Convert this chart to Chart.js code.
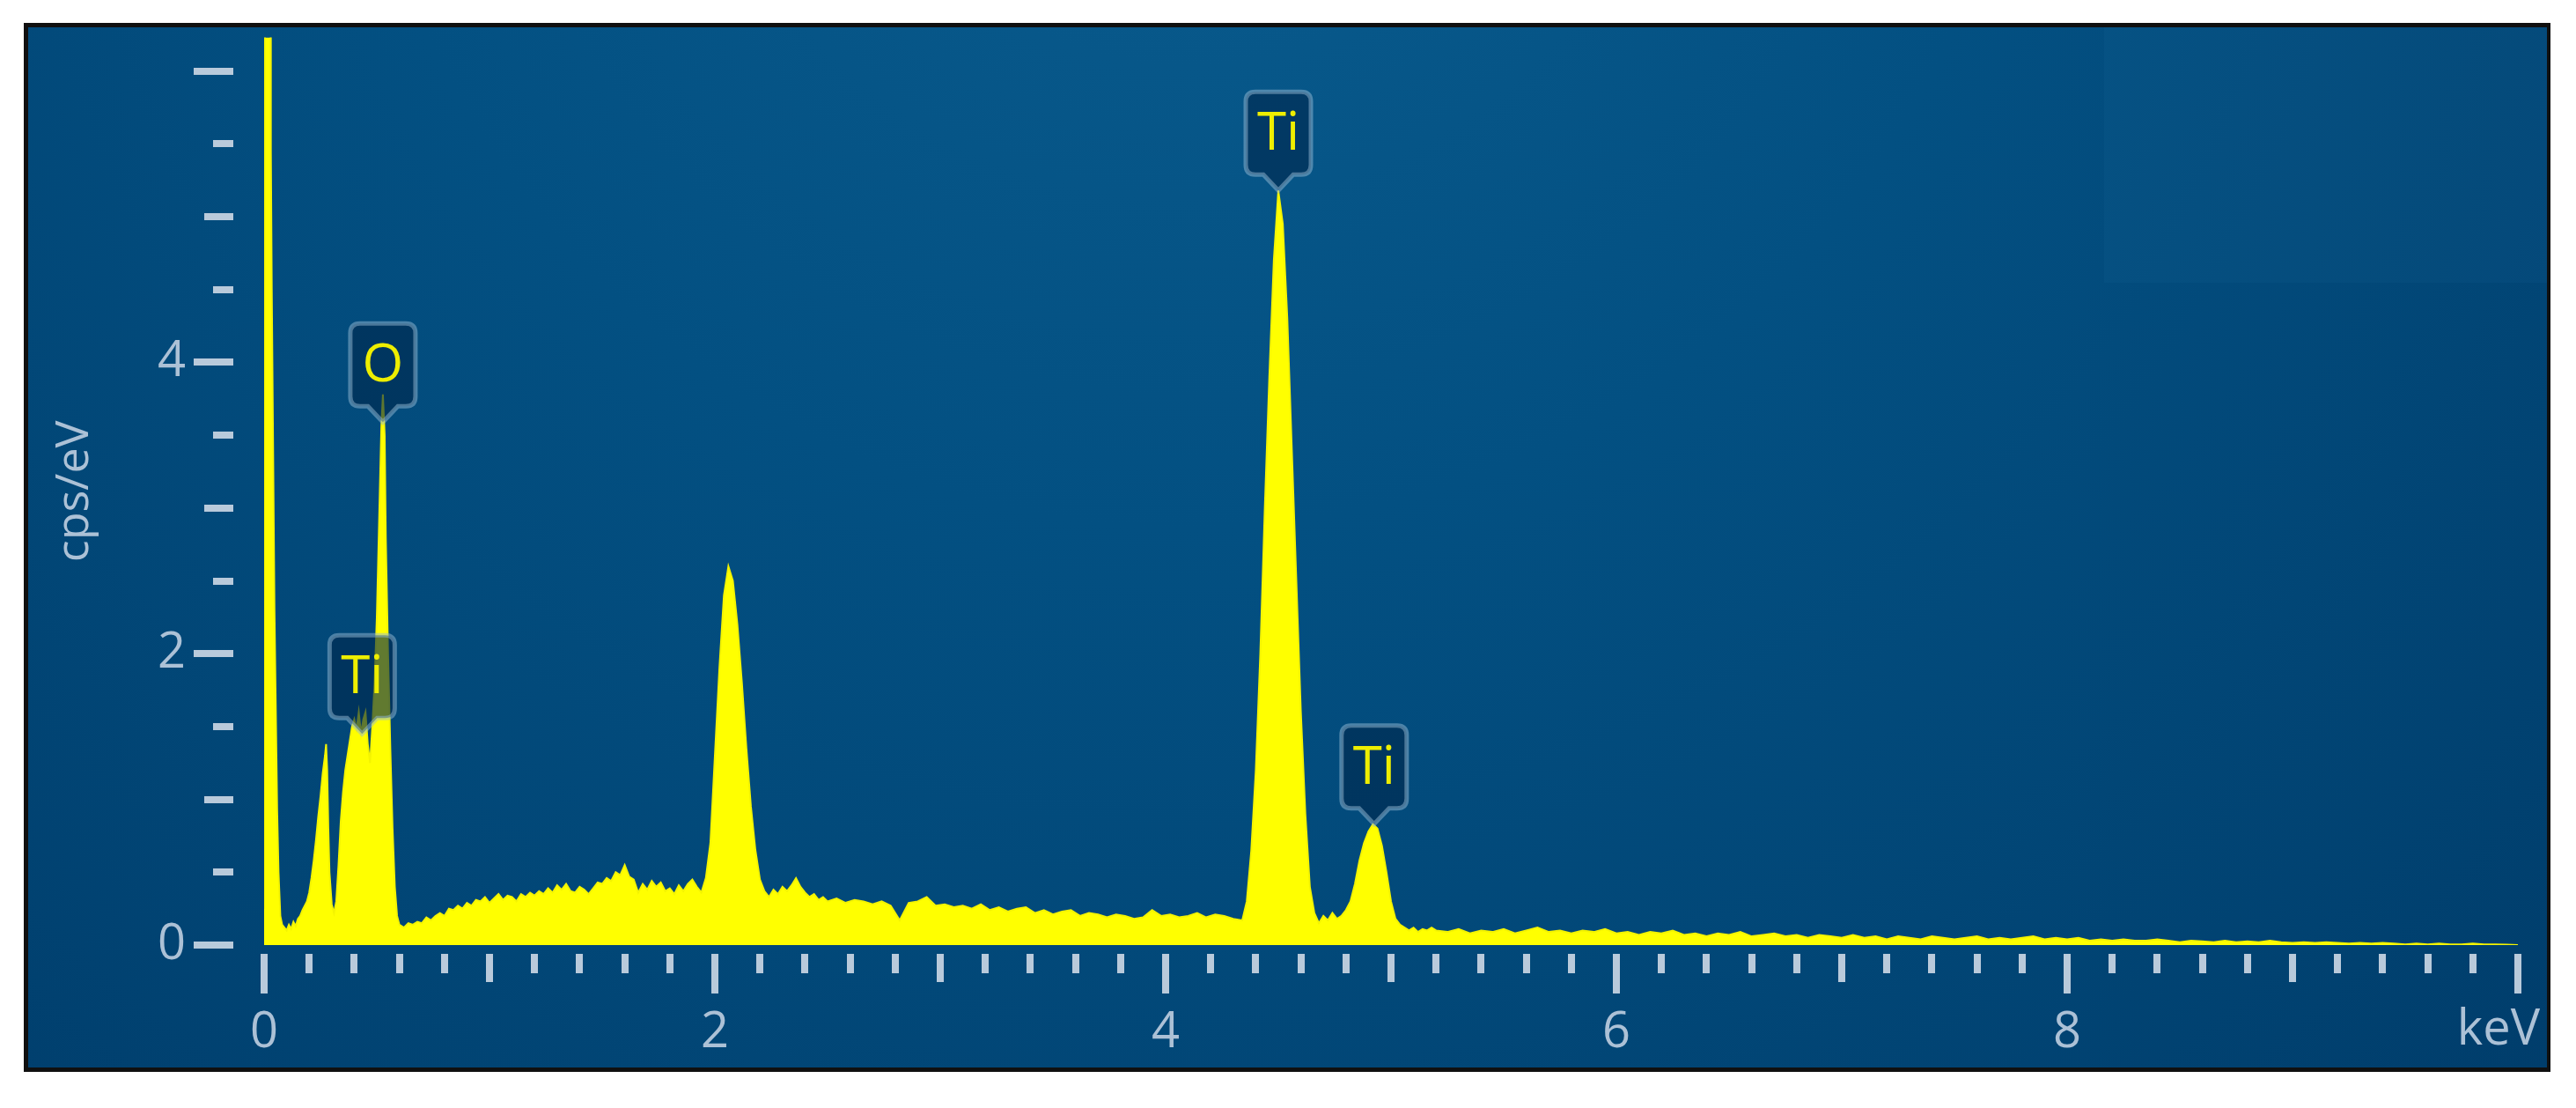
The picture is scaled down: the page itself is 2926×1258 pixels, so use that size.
<!DOCTYPE html>
<html><head><meta charset="utf-8">
<script src="https://cdn.jsdelivr.net/npm/chart.js@4.4.1/dist/chart.umd.min.js"></script>
<style>html,body{margin:0;padding:0;background:#fff;overflow:hidden}canvas{display:block}</style>
</head><body>
<canvas id="c" width="2926" height="1258"></canvas>
<script>
// ---- spectrum data (energy in keV, intensity in cps/eV) ----
const energyA = [0.000,0.004,0.028,0.030,0.034,0.046,0.058,0.064,0.072,0.080,0.090,0.100,0.110,0.120,0.130,0.140,0.150,0.160,0.170,0.180,0.190,0.200,0.210,0.220,0.230,0.240,0.250,0.260,0.270,0.275,0.280,0.285,0.290,0.300,0.310,0.320,0.330,0.340,0.350,0.360,0.370,0.380,0.390,0.400,0.410,0.420,0.430,0.440,0.450,0.460,0.470,0.480,0.490,0.500,0.510,0.520,0.527,0.535,0.540,0.550,0.560,0.570,0.580,0.590,0.600,0.620,0.640];
const countsA = [0.25,9.0,9.0,5.45,4.5,2.3,0.92,0.5,0.2,0.14,0.12,0.1,0.14,0.11,0.16,0.13,0.18,0.2,0.24,0.27,0.3,0.36,0.46,0.58,0.72,0.88,1.02,1.18,1.3,1.38,1.2,0.8,0.5,0.28,0.22,0.3,0.55,0.85,1.05,1.2,1.3,1.4,1.5,1.55,1.48,1.6,1.45,1.55,1.6,1.38,1.25,1.5,1.8,2.25,2.9,3.55,3.78,3.5,2.8,2.0,1.35,0.8,0.4,0.2,0.14,0.12,0.15];

const energyB = [0.66,0.68,0.70,0.72,0.74,0.76,0.78,0.80,0.82,0.84,0.86,0.88,0.90,0.92,0.94,0.96,0.98,1.00,1.02,1.04,1.06,1.08,1.10,1.12,1.14,1.16,1.18,1.20,1.22,1.24,1.26,1.28,1.30,1.32,1.34,1.36,1.38,1.40,1.42,1.44,1.46,1.48,1.50,1.52,1.54,1.56,1.58,1.60,1.62,1.64,1.66,1.68,1.70,1.72,1.74,1.76,1.78,1.80,1.82,1.84,1.86,1.88,1.90,1.92,1.94,1.96];
const countsB = [0.14,0.16,0.15,0.19,0.17,0.2,0.22,0.2,0.25,0.24,0.27,0.25,0.29,0.27,0.31,0.3,0.33,0.29,0.32,0.35,0.31,0.34,0.33,0.3,0.35,0.33,0.36,0.34,0.37,0.35,0.39,0.36,0.41,0.38,0.42,0.37,0.36,0.4,0.38,0.35,0.39,0.43,0.42,0.46,0.44,0.5,0.48,0.55,0.47,0.45,0.36,0.42,0.38,0.44,0.4,0.43,0.37,0.39,0.35,0.41,0.37,0.42,0.45,0.4,0.36,0.46];

const energyC1 = [1.98,2.00,2.02,2.04,2.06,2.08,2.10,2.12,2.14,2.16,2.18,2.20,2.22,2.24,2.26,2.28,2.30,2.32,2.34,2.36,2.38,2.40,2.42,2.44,2.46,2.48,2.50];
const countsC1 = [0.7,1.3,1.9,2.4,2.6,2.5,2.2,1.8,1.35,0.95,0.65,0.45,0.37,0.33,0.38,0.35,0.4,0.37,0.41,0.46,0.4,0.36,0.33,0.35,0.31,0.33,0.3];

const energyC2 = [2.54,2.58,2.62,2.66,2.70,2.74,2.78,2.82,2.86,2.90,2.94,2.98,3.02,3.06,3.10,3.14,3.18,3.22,3.26,3.30,3.34,3.38,3.42,3.46,3.50,3.54,3.58,3.62,3.66,3.70,3.74,3.78,3.82,3.86,3.90,3.94,3.98,4.02,4.06,4.10,4.14,4.18,4.22,4.26,4.30,4.34];
const countsC2 = [0.32,0.29,0.31,0.3,0.28,0.3,0.27,0.17,0.29,0.3,0.33,0.27,0.28,0.26,0.27,0.25,0.28,0.24,0.26,0.23,0.25,0.26,0.22,0.24,0.21,0.23,0.24,0.2,0.22,0.21,0.19,0.21,0.2,0.18,0.19,0.24,0.2,0.21,0.19,0.2,0.22,0.19,0.21,0.2,0.18,0.17];

const energyD = [4.36,4.38,4.40,4.42,4.44,4.46,4.48,4.50,4.52,4.54,4.56,4.58,4.60,4.62,4.64,4.66,4.68,4.70,4.72,4.74,4.76,4.78,4.80,4.82,4.84,4.86,4.88,4.90,4.92,4.94,4.96,4.98,5.00,5.02,5.04,5.06,5.08,5.10,5.12,5.14,5.16,5.18,5.20];
const countsD = [0.3,0.65,1.2,2.0,3.0,3.9,4.7,5.18,4.95,4.3,3.4,2.5,1.6,0.9,0.4,0.22,0.15,0.2,0.17,0.22,0.18,0.2,0.24,0.3,0.42,0.58,0.7,0.78,0.83,0.8,0.68,0.5,0.3,0.18,0.14,0.12,0.1,0.12,0.09,0.11,0.1,0.12,0.1];

const energyE = [5.25,5.30,5.35,5.40,5.45,5.50,5.55,5.60,5.65,5.70,5.75,5.80,5.85,5.90,5.95,6.00,6.05,6.10,6.15,6.20,6.25,6.30,6.35,6.40,6.45,6.50,6.55,6.60,6.65,6.70,6.75,6.80,6.85,6.90,6.95,7.00,7.05,7.10,7.15,7.20,7.25,7.30,7.35,7.40,7.45,7.50,7.55,7.60,7.65,7.70,7.75,7.80,7.85,7.90,7.95,8.00,8.05,8.10,8.15,8.20,8.25,8.30,8.35,8.40,8.45,8.50,8.55,8.60,8.65,8.70,8.75,8.80,8.85,8.90,8.95,9.00,9.05,9.10,9.15,9.20,9.25,9.30,9.35,9.40,9.45,9.50,9.55,9.60,9.65,9.70,9.75,9.80,9.85,9.90,9.95,10.00];
const countsE = [0.09,0.11,0.08,0.1,0.09,0.11,0.08,0.1,0.12,0.09,0.1,0.08,0.1,0.09,0.11,0.08,0.09,0.07,0.09,0.08,0.1,0.07,0.08,0.06,0.08,0.07,0.09,0.06,0.07,0.08,0.06,0.07,0.05,0.07,0.06,0.05,0.07,0.05,0.06,0.04,0.06,0.05,0.04,0.06,0.05,0.04,0.05,0.06,0.04,0.05,0.04,0.05,0.06,0.04,0.05,0.04,0.05,0.03,0.04,0.03,0.04,0.03,0.03,0.04,0.03,0.02,0.03,0.025,0.02,0.03,0.02,0.025,0.02,0.03,0.02,0.015,0.02,0.015,0.02,0.015,0.01,0.015,0.01,0.015,0.01,0.005,0.01,0.005,0.01,0.005,0.005,0.01,0.005,0.005,0.003,0];

// ---- tick labels and peak markers ----
const xTickLabels = ['0','2','4','6','8'];
const xUnitLabel = 'keV';
const yTickLabels = ['0','2','4'];
const yTitle = 'cps/eV';
const peakNames = ['O','Ti','Ti','Ti'];
const peakEnergies = [0.527,0.435,4.50,4.925];
const peakTipValues = [3.59,1.45,5.18,0.83];

// ---- assemble ----
const energies = [].concat(energyA, energyB, energyC1, energyC2, energyD, energyE);
const counts = [].concat(countsA, countsB, countsC1, countsC2, countsD, countsE);
const points = energies.map((e, i) => ({x: e, y: counts[i]}));

const FONT = '"Open Sans", "Noto Sans", sans-serif';
const LABEL_COLOR = '#acc1d6';
const TICK_COLOR = '#b9cadb';

const backgroundPlugin = {
  id: 'bgFrame',
  beforeDraw(chart) {
    const c = chart.ctx;
    c.save();
    c.fillStyle = '#ffffff';
    c.fillRect(0, 0, chart.width, chart.height);
    c.fillStyle = '#101010';
    c.fillRect(27, 26, 2870, 1191);
    const g = c.createRadialGradient(1350, -350, 50, 1350, -350, 2300);
    g.addColorStop(0, 'rgb(10,92,142)');
    g.addColorStop(0.4, 'rgb(3,80,130)');
    g.addColorStop(1, 'rgb(0,60,106)');
    c.fillStyle = g;
    c.fillRect(32, 31, 2861, 1181);
    c.fillStyle = 'rgba(40,120,170,0.10)';
    c.fillRect(2390, 31, 503, 290);
    c.restore();
  }
};

const tickPlugin = {
  id: 'tickMarks',
  afterDraw(chart) {
    const c = chart.ctx, xs = chart.scales.x, ys = chart.scales.y, area = chart.chartArea;
    c.save();
    c.strokeStyle = TICK_COLOR;
    c.lineWidth = 8;
    c.lineCap = 'butt';
    const yEnd = area.left - 35;
    ys.ticks.forEach(t => {
      const k = Math.round(t.value * 2);
      if (Math.abs(t.value * 2 - k) > 1e-6) return;
      const len = (k % 4 === 0) ? 45 : (k % 2 === 0 ? 33 : 23);
      const py = Math.round(ys.getPixelForValue(t.value));
      c.beginPath(); c.moveTo(yEnd - len, py); c.lineTo(yEnd, py); c.stroke();
    });
    const xTop = area.bottom + 10;
    xs.ticks.forEach(t => {
      const k = Math.round(t.value * 5);
      const len = (k % 10 === 0) ? 45 : (k % 5 === 0 ? 32 : 22);
      const px = Math.round(xs.getPixelForValue(t.value));
      c.beginPath(); c.moveTo(px, xTop); c.lineTo(px, xTop + len); c.stroke();
    });
    c.fillStyle = LABEL_COLOR;
    c.font = '56px ' + FONT;
    c.textAlign = 'center';
    c.textBaseline = 'middle';
    c.fillText(xUnitLabel, xs.getPixelForValue(10) - 22, 1170);
    c.restore();
  }
};

const peakLabelPlugin = {
  id: 'peakLabels',
  afterDatasetsDraw(chart) {
    const c = chart.ctx, xs = chart.scales.x, ys = chart.scales.y;
    const w = 74, h = 94, r = 11, gap = 18, half = 17;
    c.save();
    peakNames.forEach((name, i) => {
      const cx = xs.getPixelForValue(peakEnergies[i]);
      const tipY = ys.getPixelForValue(peakTipValues[i]);
      const bottom = tipY - gap, top = bottom - h, left = cx - w / 2, right = cx + w / 2;
      c.beginPath();
      c.moveTo(left + r, top);
      c.lineTo(right - r, top);
      c.quadraticCurveTo(right, top, right, top + r);
      c.lineTo(right, bottom - r);
      c.quadraticCurveTo(right, bottom, right - r, bottom);
      c.lineTo(cx + half, bottom);
      c.lineTo(cx, tipY);
      c.lineTo(cx - half, bottom);
      c.lineTo(left + r, bottom);
      c.quadraticCurveTo(left, bottom, left, bottom - r);
      c.lineTo(left, top + r);
      c.quadraticCurveTo(left, top, left + r, top);
      c.closePath();
      c.fillStyle = 'rgba(0,40,78,0.62)';
      c.fill();
      c.lineWidth = 5;
      c.strokeStyle = 'rgba(150,185,212,0.5)';
      c.stroke();
      c.fillStyle = '#eeee00';
      c.font = '60px ' + FONT;
      c.textAlign = 'center';
      c.textBaseline = 'middle';
      c.fillText(name, cx, top + h / 2 + 2);
    });
    c.restore();
  }
};

new Chart(document.getElementById('c').getContext('2d'), {
  type: 'line',
  data: {
    datasets: [{
      data: points,
      fill: 'origin',
      backgroundColor: '#ffff00',
      borderColor: '#f4f400',
      borderWidth: 2,
      pointRadius: 0,
      tension: 0
    }]
  },
  options: {
    responsive: false,
    animation: false,
    devicePixelRatio: 1,
    layout: {padding: {left: 0, right: 66, top: 33, bottom: 0}},
    plugins: {legend: {display: false}, tooltip: {enabled: false}},
    scales: {
      x: {
        type: 'linear', min: 0, max: 10,
        afterFit: s => { s.height = 185; },
        border: {display: false},
        grid: {display: true, drawOnChartArea: false, drawTicks: true, tickLength: 56, color: 'rgba(0,0,0,0)'},
        ticks: {
          stepSize: 0.2, autoSkip: false, maxRotation: 0, minRotation: 0, padding: 10,
          color: LABEL_COLOR, font: {family: FONT, size: 56},
          callback: v => {
            const k = Math.round(v);
            if (Math.abs(v - k) > 1e-6) return '';
            const s = String(k);
            return xTickLabels.includes(s) ? s : '';
          }
        }
      },
      y: {
        min: 0, max: 6.23,
        afterFit: s => { s.width = 300; },
        border: {display: false},
        grid: {display: true, drawOnChartArea: false, drawTicks: true, tickLength: 80, color: 'rgba(0,0,0,0)'},
        title: {display: true, text: yTitle, color: LABEL_COLOR, font: {family: FONT, size: 52}, padding: {top: 54, bottom: 0}},
        ticks: {
          stepSize: 0.5, includeBounds: false, autoSkip: false, padding: 9,
          color: LABEL_COLOR, font: {family: FONT, size: 56},
          callback: v => {
            const k = Math.round(v);
            if (Math.abs(v - k) > 1e-6) return '';
            const s = String(k);
            return yTickLabels.includes(s) ? s : '';
          }
        }
      }
    }
  },
  plugins: [backgroundPlugin, tickPlugin, peakLabelPlugin]
});
</script>
</body></html>
